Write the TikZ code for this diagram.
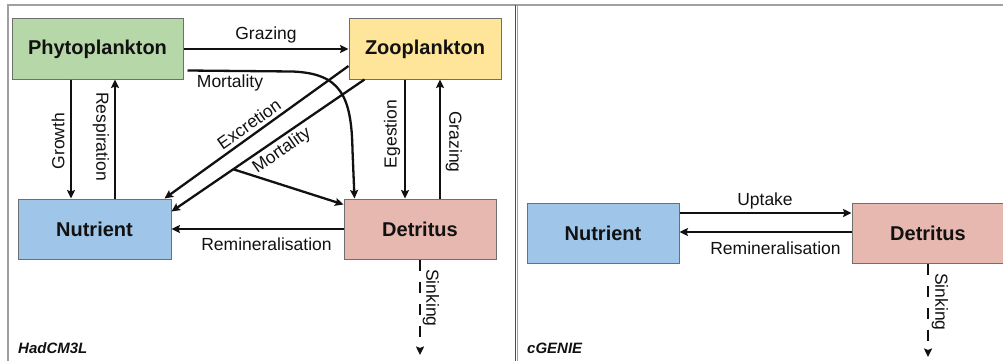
\documentclass[tikz,border=0pt]{standalone}
\usepackage{fontspec}
\setmainfont{Liberation Sans}
\usetikzlibrary{arrows.meta,calc}
\definecolor{phy}{HTML}{B6D7A8}
\definecolor{zoo}{HTML}{FFE599}
\definecolor{nut}{HTML}{9FC5E8}
\definecolor{det}{HTML}{E6B8AF}
\definecolor{boxline}{HTML}{6F6F6F}
\definecolor{framegray}{HTML}{A0A0A0}
\definecolor{ink}{HTML}{111111}
\begin{document}
\begin{tikzpicture}[x=1pt,y=-1pt,
  box/.style={draw=boxline, line width=1pt, minimum width=#1, minimum height=60pt,
    inner sep=0pt, text=ink, font=\fontsize{20}{24}\selectfont\bfseries},
  lab/.style={font=\fontsize{17.5}{20}\selectfont, inner sep=0pt, text=ink},
  tag/.style={font=\fontsize{15}{18}\selectfont\bfseries\itshape, inner sep=0pt, anchor=west, text=ink},
  arr/.style={line width=2.3pt, draw=ink, -{Stealth[length=8.5pt,width=8pt,inset=1.5pt]}},
  sink/.style={arr, dash pattern=on 11pt off 11pt},
  frame/.style={line width=2pt, draw=framegray}]
\useasboundingbox (0,0) rectangle (1003,361);
% frame
\draw[frame] (7,5.5) -- (1003,5.5);
\draw[frame] (8,5) -- (8,361);
\draw[line width=1pt, draw=black!70] (515,5) -- (515,361);
\draw[line width=1.5pt, draw=framegray] (517.5,5) -- (517.5,361);
% left panel nodes
\node[box=171pt, fill=phy] (phyto) at (97.5,49) {Phytoplankton};
\node[box=152pt, fill=zoo] (zoopl) at (425,49) {Zooplankton};
\node[box=153pt, fill=nut] (nutL) at (94.5,229) {Nutrient};
\node[box=152pt, fill=det] (detL) at (420,229) {Detritus};
% left arrows
\draw[arr] (phyto.east) -- (zoopl.west) node[lab, midway, yshift=14pt] (lgraz) {Grazing};
\draw[arr] ([shift={(4,-9)}]phyto.south east) -- ++(105,1)
  .. controls +(48,2) and +(-1,-55) .. ([shift={(9,-48)}]detL.north west)
  -- ([xshift=11pt]detL.north west);
\node[lab] (lmort1) at (230,83) {Mortality};
\draw[arr] ([xshift=-26.5pt]phyto.south) -- ([xshift=-26.5pt]phyto.south |- nutL.north)
  node[lab, midway, rotate=90, xshift=-2pt, yshift=13pt] (lgrowth) {Growth};
\draw[arr] ([xshift=17.5pt]phyto.south |- nutL.north) -- ([xshift=17.5pt]phyto.south)
  node[lab, pos=0.52, rotate=-90, yshift=-14pt] (lresp) {Respiration};
\draw[arr] ([yshift=-17pt]zoopl.west) -- ([xshift=-7pt]nutL.north east);
\node[lab, rotate=35] (lexc) at (249,124) {Excretion};
\draw[arr] ([xshift=16pt]zoopl.south west) -- coordinate[pos=0.68] (branch) ([yshift=-13pt]nutL.north east);
\draw[arr] (branch) -- ([yshift=-6pt]detL.north west);
\node[lab, rotate=34.5] (lmort2) at (282,151) {Mortality};
\draw[arr] ([xshift=-15pt]detL.north |- zoopl.south) -- ([xshift=-15pt]detL.north);
\node[lab, rotate=90] (legest) at (392,134) {Egestion};
\draw[arr] ([xshift=20pt]detL.north) -- ([xshift=20pt]detL.north |- zoopl.south);
\node[lab, rotate=-90] (lgraz2) at (454,142) {Grazing};
\draw[arr] (detL.west) -- (nutL.east);
\node[lab] (lremL) at (266.5,244) {Remineralisation};
\coordinate (sinkL) at (420,355);
\draw[sink] (detL.south) -- (sinkL);
\node[lab, rotate=-90] (lsinkL) at (431,298) {Sinking};
\node[tag] (tagL) at (18,348) {HadCM3L};
% right panel
\node[box=152pt, fill=nut] (nutR) at (603,233) {Nutrient};
\node[box=152pt, fill=det] (detR) at (928,233) {Detritus};
\draw[arr] ([yshift=20pt]nutR.east) -- ([yshift=20pt]nutR.east -| detR.west);
\node[lab] (lupt) at (765,201) {Uptake};
\draw[arr] ([yshift=1pt]detR.west) -- ([yshift=1pt]detR.west -| nutR.east);
\node[lab] (lremR) at (775.5,248) {Remineralisation};
\coordinate (sinkR) at (928,357);
\draw[sink] (detR.south) -- (sinkR);
\node[lab, rotate=-90] (lsinkR) at (940,302) {Sinking};
\node[tag] (tagR) at (527,348) {cGENIE};
\end{tikzpicture}
\end{document}
